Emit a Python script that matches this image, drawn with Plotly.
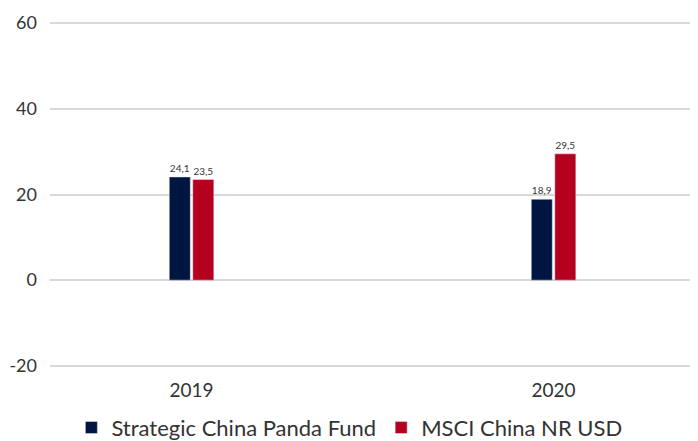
import plotly.graph_objects as go

categories = ["2019", "2020"]
fund_name = "Strategic China Panda Fund"
bench_name = "MSCI China NR USD"
fund_values = [24.1, 18.9]
bench_values = [23.5, 29.5]
y_ticks = [-20, 0, 20, 40, 60]
y_tick_labels = ["-20", "0", "20", "40", "60"]

def fmt(v):
    return f"{v:.1f}".replace(".", ",")

fig = go.Figure()
fig.add_trace(go.Bar(x=categories, y=fund_values, name=fund_name, marker_color="#001641",
                     text=[fmt(v) for v in fund_values], textposition="outside",
                     textfont=dict(size=10, color="#333333"), cliponaxis=False))
fig.add_trace(go.Bar(x=categories, y=bench_values, name=bench_name, marker_color="#B5001F",
                     text=[fmt(v) for v in bench_values], textposition="outside",
                     textfont=dict(size=10, color="#333333"), cliponaxis=False))

fig.update_layout(
    width=690, height=433,
    margin=dict(l=42, r=0, t=13, b=73, autoexpand=False),
    barmode="group", bargap=0.87, bargroupgap=0.106,
    plot_bgcolor="white", paper_bgcolor="white",
    font=dict(family="Lato", color="#333333", size=19),
    xaxis=dict(type="category", range=[-0.391, 1.399], showgrid=False, showline=False,
               ticks="", tickfont=dict(size=19), ticklabelstandoff=9, automargin=False),
    yaxis=dict(range=[-20.5, 60.5], tickvals=y_ticks, ticktext=y_tick_labels,
               showgrid=True, gridcolor="#d9d9d9",
               gridwidth=1.5, zeroline=True, zerolinecolor="#d9d9d9", zerolinewidth=1.5,
               showline=False, ticks="", tickfont=dict(size=18), ticklabelstandoff=12,
               automargin=False),
    legend=dict(orientation="h", x=0.462, xanchor="center", y=-0.172, yanchor="middle",
                font=dict(size=22), itemwidth=30, traceorder="normal"),
    showlegend=True,
)

fig.write_html("out.html")
